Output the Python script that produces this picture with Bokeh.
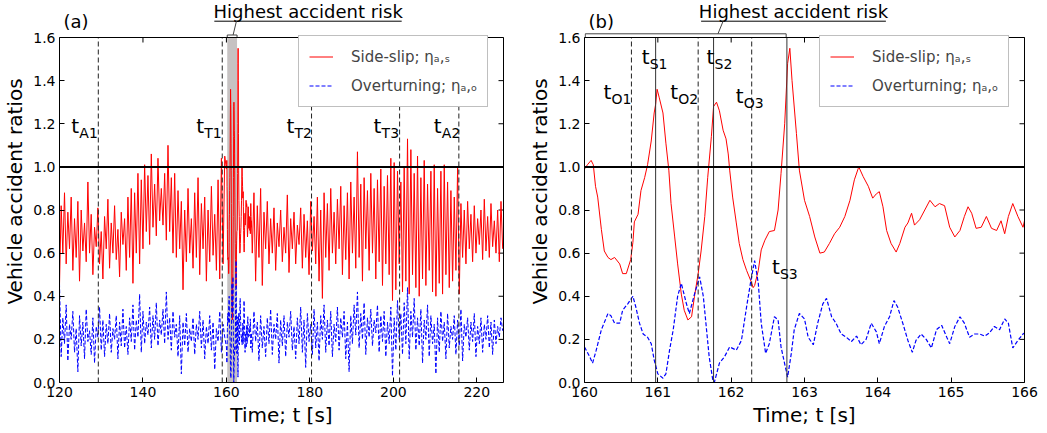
import numpy as np
from bokeh.plotting import figure
from bokeh.layouts import row
from bokeh.models import (Span, BoxAnnotation, Label, FixedTicker, LinearAxis,
                          Range1d, Legend, LegendItem, NumeralTickFormatter)
from bokeh.core.properties import value
from bokeh.embed import file_html
from bokeh.resources import INLINE

FONT = "DejaVu Sans"

# ---------------- data ----------------
# detailed window 160-166 s (panel b)
T_RED_B = [160.00, 160.04, 160.09, 160.12, 160.15, 160.18, 160.23, 160.27, 160.32, 160.36,
           160.41, 160.48, 160.52, 160.57, 160.63, 160.66, 160.68, 160.73, 160.77, 160.82,
           160.86, 160.91, 160.95, 160.97, 160.99, 161.02, 161.07, 161.11, 161.15, 161.18,
           161.23, 161.27, 161.32, 161.36, 161.41, 161.46, 161.50, 161.55, 161.59, 161.64,
           161.68, 161.73, 161.76, 161.80, 161.84, 161.89, 161.93, 161.96, 161.98, 162.02,
           162.07, 162.11, 162.16, 162.21, 162.27, 162.30, 162.32, 162.37, 162.41, 162.46,
           162.52, 162.59, 162.64, 162.68, 162.73, 162.77, 162.80, 162.83, 162.89, 162.93,
           163.00, 163.07, 163.14, 163.21, 163.27, 163.34, 163.41, 163.48, 163.55, 163.62,
           163.68, 163.74, 163.80, 163.87, 163.93, 163.98, 164.02, 164.07, 164.12, 164.18,
           164.25, 164.30, 164.37, 164.41, 164.46, 164.50, 164.57, 164.64, 164.71, 164.78,
           164.84, 164.91, 164.98, 165.05, 165.12, 165.18, 165.23, 165.28, 165.34, 165.41,
           165.48, 165.55, 165.62, 165.68, 165.73, 165.78, 165.84, 165.91, 165.98, 166.00]
V_RED_B = [0.99, 1.01, 1.03, 1.01, 0.91, 0.86, 0.71, 0.61, 0.58, 0.57,
           0.58, 0.55, 0.505, 0.505, 0.57, 0.65, 0.745, 0.78, 0.89, 0.95,
           1.01, 1.12, 1.25, 1.29, 1.36, 1.32, 1.25, 1.11, 0.985, 0.83,
           0.675, 0.55, 0.41, 0.335, 0.29, 0.305, 0.40, 0.505, 0.61, 0.77,
           0.95, 1.14, 1.28, 1.30, 1.26, 1.17, 1.13, 1.06, 0.985, 0.86,
           0.74, 0.645, 0.57, 0.52, 0.47, 0.44, 0.45, 0.52, 0.615, 0.66,
           0.70, 0.705, 0.80, 0.97, 1.20, 1.48, 1.55, 1.40, 1.155, 0.985,
           0.845, 0.77, 0.675, 0.60, 0.605, 0.645, 0.69, 0.72, 0.77, 0.845,
           0.94, 1.00, 0.955, 0.91, 0.855, 0.875, 0.885, 0.815, 0.705, 0.645,
           0.605, 0.645, 0.72, 0.74, 0.785, 0.73, 0.755, 0.80, 0.845, 0.815,
           0.83, 0.82, 0.72, 0.675, 0.705, 0.77, 0.815, 0.785, 0.715, 0.72,
           0.77, 0.715, 0.705, 0.75, 0.69, 0.77, 0.83, 0.77, 0.72, 0.75]
T_BLUE_B = [160.00, 160.07, 160.11, 160.16, 160.23, 160.32, 160.36, 160.41, 160.48, 160.52,
            160.59, 160.66, 160.70, 160.75, 160.80, 160.86, 160.91, 160.95, 161.00, 161.07,
            161.11, 161.16, 161.21, 161.27, 161.32, 161.39, 161.43, 161.50, 161.57, 161.62,
            161.66, 161.70, 161.75, 161.77, 161.84, 161.91, 161.98, 162.07, 162.14, 162.21,
            162.27, 162.32, 162.37, 162.41, 162.47, 162.52, 162.59, 162.64, 162.68, 162.74,
            162.77, 162.82, 162.86, 162.93, 163.00, 163.05, 163.12, 163.18, 163.25, 163.30,
            163.37, 163.43, 163.50, 163.57, 163.64, 163.71, 163.77, 163.84, 163.91, 163.98,
            164.02, 164.09, 164.16, 164.22, 164.27, 164.34, 164.41, 164.47, 164.52, 164.59,
            164.66, 164.73, 164.80, 164.87, 164.94, 164.98, 165.05, 165.12, 165.18, 165.25,
            165.32, 165.39, 165.46, 165.52, 165.59, 165.66, 165.73, 165.78, 165.84, 165.91,
            165.98, 166.00]
V_BLUE_B = [0.165, 0.12, 0.09, 0.15, 0.245, 0.32, 0.31, 0.275, 0.275, 0.335,
            0.365, 0.40, 0.35, 0.275, 0.225, 0.21, 0.18, 0.105, 0.04, 0.02,
            0.04, 0.15, 0.245, 0.40, 0.46, 0.365, 0.32, 0.41, 0.49, 0.40,
            0.26, 0.12, 0.01, 0.0, 0.09, 0.12, 0.165, 0.15, 0.195, 0.35,
            0.475, 0.565, 0.46, 0.275, 0.135, 0.18, 0.305, 0.29, 0.165, 0.07,
            0.025, 0.135, 0.245, 0.32, 0.295, 0.21, 0.175, 0.275, 0.365, 0.39,
            0.305, 0.275, 0.225, 0.21, 0.19, 0.215, 0.175, 0.20, 0.275, 0.235,
            0.18, 0.26, 0.305, 0.38, 0.35, 0.275, 0.195, 0.14, 0.195, 0.225,
            0.20, 0.16, 0.245, 0.265, 0.21, 0.18, 0.26, 0.305, 0.275, 0.21,
            0.225, 0.225, 0.215, 0.23, 0.26, 0.245, 0.295, 0.275, 0.16, 0.195,
            0.225, 0.23]

# long record (panel a), sampled every 0.4 s before 160 s and after 166 s
DT = 0.4
T0_PRE, T0_POST = 120.0, 166.2
RED_PRE = [0.45, 0.82, 0.60, 0.88, 0.55, 0.79, 0.62, 0.86, 0.52, 0.76,
           0.58, 0.84, 0.47, 0.80, 0.61, 0.74, 0.56, 0.93, 0.60, 0.78,
           0.50, 0.72, 0.63, 0.81, 0.55, 0.70, 0.48, 0.77, 0.62, 0.85,
           0.53, 0.74, 0.60, 0.82, 0.57, 0.71, 0.49, 0.79, 0.64, 0.76,
           0.52, 0.86, 0.58, 0.90, 0.46, 0.88, 0.60, 0.97, 0.55, 0.94,
           0.62, 1.01, 0.70, 0.96, 0.64, 1.06, 0.72, 0.92, 0.68, 1.04,
           0.75, 0.90, 0.73, 0.97, 0.66, 1.10, 0.70, 0.95, 0.60, 0.97,
           0.58, 0.89, 0.62, 0.84, 0.43, 0.80, 0.56, 0.90, 0.60, 0.76,
           0.53, 0.88, 0.58, 0.95, 0.50, 0.83, 0.62, 0.86, 0.47, 0.80,
           0.56, 0.91, 0.59, 0.78, 0.52, 0.94, 0.48, 1.04, 0.55, 1.05]
RED_POST = [0.60, 0.88, 0.47, 0.82, 0.58, 0.90, 0.45, 0.79, 0.62, 0.84,
            0.55, 0.76, 0.60, 0.81, 0.52, 0.74, 0.63, 0.80, 0.56, 0.72,
            0.60, 0.87, 0.51, 0.76, 0.62, 0.79, 0.55, 0.73, 0.64, 0.81,
            0.53, 0.78, 0.58, 0.75, 0.50, 0.84, 0.61, 0.77, 0.55, 0.86,
            0.47, 0.80, 0.39, 0.88, 0.58, 0.83, 0.52, 0.90, 0.60, 0.79,
            0.55, 0.85, 0.62, 0.91, 0.50, 0.82, 0.57, 0.88, 0.48, 0.93,
            0.60, 0.86, 0.53, 1.07, 0.58, 0.92, 0.47, 0.95, 0.62, 0.89,
            0.52, 0.97, 0.60, 0.90, 0.48, 0.94, 0.56, 0.99, 0.45, 0.91,
            0.55, 0.96, 0.50, 1.04, 0.38, 1.02, 0.43, 0.98, 0.55, 0.93,
            0.42, 1.00, 0.47, 1.13, 0.41, 1.08, 0.50, 0.97, 0.44, 1.05,
            0.40, 0.95, 0.48, 1.03, 0.45, 0.92, 0.52, 0.98, 0.42, 1.01,
            0.40, 0.90, 0.46, 0.98, 0.41, 1.01, 0.50, 0.93, 0.44, 0.89,
            0.47, 0.86, 0.52, 1.00, 0.41, 0.83, 0.58, 0.80, 0.55, 0.84,
            0.62, 0.78, 0.56, 0.82, 0.60, 0.76, 0.64, 0.80, 0.57, 0.85,
            0.61, 0.77, 0.58, 0.83, 0.63, 0.75, 0.60, 0.80, 0.56, 0.84,
            0.62]
BLUE_PRE = [0.46, 0.12, 0.30, 0.18, 0.36, 0.10, 0.27, 0.20, 0.33, 0.14,
            0.25, 0.05, 0.31, 0.17, 0.28, 0.11, 0.34, 0.19, 0.24, 0.13,
            0.30, 0.09, 0.26, 0.21, 0.35, 0.15, 0.29, 0.12, 0.27, 0.18,
            0.32, 0.14, 0.25, 0.20, 0.31, 0.11, 0.28, 0.17, 0.34, 0.16,
            0.26, 0.13, 0.30, 0.19, 0.36, 0.15, 0.29, 0.21, 0.41, 0.14,
            0.33, 0.18, 0.28, 0.22, 0.35, 0.16, 0.31, 0.20, 0.37, 0.17,
            0.29, 0.22, 0.34, 0.18, 0.42, 0.20, 0.30, 0.15, 0.33, 0.21,
            0.27, 0.12, 0.31, 0.04, 0.28, 0.17, 0.32, 0.14, 0.25, 0.19,
            0.30, 0.13, 0.27, 0.20, 0.33, 0.16, 0.29, 0.11, 0.26, 0.18,
            0.31, 0.15, 0.28, 0.06, 0.25, 0.19, 0.33, 0.14, 0.27, 0.21]
BLUE_POST = [0.14, 0.33, 0.19, 0.28, 0.10, 0.31, 0.16, 0.26, 0.12, 0.30,
             0.18, 0.34, 0.13, 0.27, 0.20, 0.32, 0.09, 0.29, 0.17, 0.31,
             0.12, 0.28, 0.21, 0.33, 0.15, 0.26, 0.11, 0.30, 0.18, 0.35,
             0.14, 0.29, 0.07, 0.32, 0.19, 0.27, 0.13, 0.34, 0.16, 0.28,
             0.10, 0.31, 0.20, 0.36, 0.14, 0.29, 0.17, 0.33, 0.12, 0.27,
             0.19, 0.35, 0.15, 0.30, 0.21, 0.33, 0.11, 0.28, 0.05, 0.31,
             0.18, 0.36, 0.22, 0.42, 0.16, 0.32, 0.20, 0.37, 0.13, 0.30,
             0.21, 0.34, 0.17, 0.29, 0.23, 0.36, 0.14, 0.31, 0.19, 0.33,
             0.12, 0.28, 0.18, 0.35, 0.03, 0.30, 0.15, 0.38, 0.20, 0.32,
             0.13, 0.37, 0.18, 0.44, 0.11, 0.33, 0.21, 0.39, 0.15, 0.30,
             0.17, 0.34, 0.09, 0.29, 0.20, 0.36, 0.12, 0.31, 0.18, 0.27,
             0.04, 0.30, 0.14, 0.33, 0.19, 0.28, 0.11, 0.32, 0.16, 0.26,
             0.20, 0.31, 0.13, 0.29, 0.17, 0.34, 0.10, 0.27, 0.21, 0.30,
             0.15, 0.28, 0.19, 0.32, 0.12, 0.26, 0.18, 0.30, 0.14, 0.27,
             0.20, 0.31, 0.16, 0.28, 0.13, 0.29, 0.18, 0.26, 0.21, 0.30,
             0.24]

# events
EV_A = [129.3, 159.0, 180.4, 201.5, 215.7]
EV_A_NAMES = ["A1", "T1", "T2", "T3", "A2"]
EV_O = [160.64, 161.55, 162.28]
EV_O_NAMES = ["O1", "O2", "O3"]
EV_S = [160.97, 161.76, 162.76]
EV_S_NAMES = ["S1", "S2", "S3"]
RISK_A = (160.2, 162.55)
RISK_B = (160.0, 162.75)

XLIM_A = (120.0, 226.4)
XLIM_B = (160.0, 166.0)
XT_A = [120, 140, 160, 180, 200, 220]
XT_B = [160, 161, 162, 163, 164, 165, 166]
YT = [0.0, 0.2, 0.4, 0.6, 0.8, 1.0, 1.2, 1.4, 1.6]
THRESH = 1.0

LAB_SIDE = "Side-slip; \u03b7\u2090,\u209b"
LAB_OVER = "Overturning; \u03b7\u2090,\u2092"
TITLE_RISK = "Highest accident risk"

# assemble long record
t_pre = T0_PRE + DT * np.arange(len(RED_PRE))
t_post = T0_POST + DT * np.arange(len(RED_POST))
T_RED_A = np.concatenate([t_pre, T_RED_B, t_post])
V_RED_A = np.concatenate([RED_PRE, V_RED_B, RED_POST])
T_BLUE_A = np.concatenate([t_pre, T_BLUE_B, t_post])
V_BLUE_A = np.concatenate([BLUE_PRE, V_BLUE_B, BLUE_POST])

# ---------------- geometry ----------------
PLOT_H = 345          # px of the 0..1.6 box
HEAD_PX = 37          # px of header room above the box (inside the frame)
YMAX = YT[-1]
PPU = PLOT_H / YMAX   # px per unit
Y_TOP = YMAX + HEAD_PX / PPU
TICK = 5
LIFT = 6              # px, compensates the text baseline placement


def ypx(px_from_top):
    return Y_TOP - px_from_top / PPU


def make_fig(xlim, xt, frame_w, bl, br):
    p = figure(frame_width=frame_w, frame_height=PLOT_H + HEAD_PX, min_border_left=bl,
               min_border_right=br, min_border_top=0, min_border_bottom=51,
               x_range=Range1d(*xlim), y_range=Range1d(0, Y_TOP),
               output_backend="svg", toolbar_location=None,
               x_axis_label="Time; t [s]", y_axis_label="Vehicle accident ratios")
    p.grid.visible = False
    p.outline_line_color = None
    p.background_fill_color = "white"
    p.border_fill_color = "white"
    p.xaxis.ticker = FixedTicker(ticks=xt)
    p.yaxis.ticker = FixedTicker(ticks=YT)
    p.yaxis.formatter = NumeralTickFormatter(format="0.0")
    p.yaxis.bounds = (YT[0], YMAX)
    for ax in p.xaxis + p.yaxis:
        ax.major_label_text_font = FONT
        ax.major_label_text_font_size = "14px"
        ax.major_label_text_color = "black"
        ax.axis_label_text_font = FONT
        ax.axis_label_text_font_size = "20px"
        ax.axis_label_text_font_style = "normal"
        ax.axis_label_text_color = "black"
        ax.major_tick_in = TICK
        ax.major_tick_out = 0
        ax.minor_tick_in = 0
        ax.minor_tick_out = 0
        ax.axis_line_color = "black"
        ax.major_tick_line_color = "black"
        ax.major_label_standoff = 4
        ax.axis_label_standoff = 3
    # right spine (line only)
    rax = LinearAxis(ticker=FixedTicker(ticks=[]), bounds=(YT[0], YMAX), axis_line_color="black",
                     major_tick_in=0, major_tick_out=0, minor_tick_in=0, minor_tick_out=0)
    p.add_layout(rax, "right")
    # top spine
    p.add_layout(Span(location=YMAX, dimension="width", line_color="black", line_width=1))
    # mirrored inward ticks on top and right
    n = len(xt)
    p.segment(x0=xt, y0=[YMAX] * n, x1=xt, y1=[YMAX - TICK / PPU] * n,
              line_color="black", line_width=1)
    p.scatter(x=[xlim[1]] * len(YT), y=YT, marker="dash", size=2 * TICK,
              line_color="black", line_width=1)
    return p


def add_legend(p, r1, r2, loc):
    leg = Legend(items=[LegendItem(label=LAB_SIDE, renderers=[r1]),
                        LegendItem(label=LAB_OVER, renderers=[r2])],
                 location=loc)
    leg.label_text_font = FONT
    leg.label_text_font_size = "15px"
    leg.border_line_color = "#808080"
    leg.border_line_width = 1
    leg.background_fill_alpha = 1
    leg.margin = 0
    leg.padding = 10
    leg.spacing = 8
    leg.glyph_width = 24
    leg.glyph_height = 21
    leg.label_height = 21
    leg.label_standoff = 18
    p.add_layout(leg)


def tsub(p, x, y, sub, dx):
    p.add_layout(Label(x=x, y=y, x_offset=dx, y_offset=LIFT, text="t", text_font=FONT,
                       text_font_size="20px", text_align="left", text_baseline="alphabetic",
                       text_color="black"))
    p.add_layout(Label(x=x, y=y, x_offset=dx + 8, y_offset=LIFT - 7, text=sub, text_font=FONT,
                       text_font_size="14px", text_align="left", text_baseline="alphabetic",
                       text_color="black"))


def vlines(p, xs, dash, color):
    n = len(xs)
    p.segment(x0=xs, y0=[YT[0]] * n, x1=xs, y1=[YMAX] * n, line_color=color,
              line_dash=dash, line_width=1)


def header_texts(p, panel_tag, x_tag, x_title):
    p.text(x=[x_tag], y=[ypx(27 - LIFT)], text=[panel_tag], x_offset=4, text_font=value(FONT),
           text_font_size=value("18px"), text_align="left", text_baseline="alphabetic",
           text_color="black")
    p.text(x=[x_title], y=[ypx(16.5 - LIFT)], text=[TITLE_RISK], text_font=value(FONT),
           text_font_size=value("18px"), text_align="center", text_baseline="alphabetic",
           text_color="black")


# ---------------- panel (a) ----------------
pa = make_fig(XLIM_A, XT_A, 444, 58, 21)
pa.add_layout(BoxAnnotation(left=RISK_A[0], right=RISK_A[1], bottom=YT[0], top=YMAX,
                            fill_color="#c6c2c2", fill_alpha=1, line_color=None,
                            level="underlay"))
ra1 = pa.line(T_RED_A, V_RED_A, line_color="red", line_width=1)
ra2 = pa.line(T_BLUE_A, V_BLUE_A, line_color="blue", line_width=1, line_dash="4 2")
pa.add_layout(Span(location=THRESH, dimension="width", line_color="black", line_width=2))
vlines(pa, EV_A, "5 3", "#222222")
for x, name, dx in zip(EV_A, EV_A_NAMES, [-27, -26, -25, -26, -25]):
    tsub(pa, x, 1.162, name, dx)
add_legend(pa, ra1, ra2, (239, 275))
header_texts(pa, "(a)", XLIM_A[0], 179.6)
pa.line([157.1, 202.0], [ypx(20.7)] * 2, line_color="black", line_width=1)
pa.line([162.4, 161.6], [ypx(20.7), ypx(34.5)], line_color="#444444", line_width=1)
pa.line([RISK_A[0], RISK_A[0], RISK_A[1], RISK_A[1]], [YMAX, ypx(34.5), ypx(34.5), YMAX],
        line_color="#444444", line_width=1)

# ---------------- panel (b) ----------------
pb = make_fig(XLIM_B, XT_B, 440, 60, 24)
rb1 = pb.line(T_RED_B, V_RED_B, line_color="red", line_width=1)
rb2 = pb.line(T_BLUE_B, V_BLUE_B, line_color="blue", line_width=1.2, line_dash="4 2")
pb.add_layout(Span(location=THRESH, dimension="width", line_color="black", line_width=2))
vlines(pb, EV_O, "5 3", "#222222")
vlines(pb, EV_S, "solid", "#333333")
for x, name, dx, y in zip(EV_O, EV_O_NAMES, [-28, -28, -16], [1.32, 1.32, 1.30]):
    tsub(pb, x, y, name, dx)
for x, name, dx, y in zip(EV_S, EV_S_NAMES, [-14, -7, -15], [1.48, 1.48, 0.507]):
    tsub(pb, x, y, name, dx)
add_legend(pb, rb1, rb2, (235, 275))
header_texts(pb, "(b)", XLIM_B[0], 162.85)
pb.line([161.59, 164.11], [ypx(20.7)] * 2, line_color="black", line_width=1)
pb.line([161.89, 161.82], [ypx(20.7), ypx(33.3)], line_color="#444444", line_width=1)
pb.line([RISK_B[0] + 0.01, RISK_B[0] + 0.01, RISK_B[1], RISK_B[1]],
        [YMAX, ypx(33.3), ypx(33.3), YMAX], line_color="#444444", line_width=1)

layout = row(pa, pb)
open("out.html", "w").write(file_html(layout, INLINE))
